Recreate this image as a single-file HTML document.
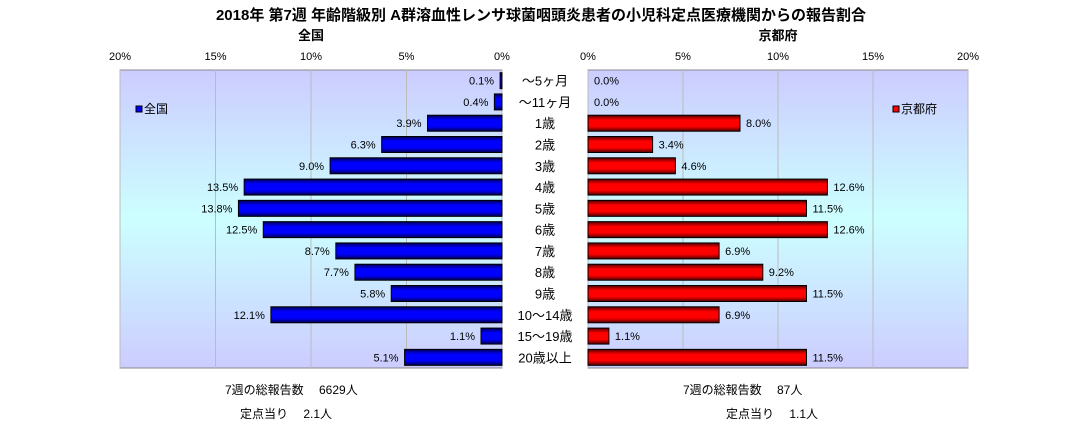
<!DOCTYPE html>
<html><head><meta charset="utf-8"><style>
body{margin:0;background:#fff;font-family:"Liberation Sans","Noto Sans CJK JP",sans-serif;}
svg text{font-family:"Liberation Sans","Noto Sans CJK JP",sans-serif;}
</style></head><body>
<svg id="c" width="1083" height="429" xmlns="http://www.w3.org/2000/svg">
<defs>
<linearGradient id="bg" x1="0" y1="0" x2="0" y2="1">
<stop offset="0" stop-color="#ccccff"/><stop offset="0.5" stop-color="#ccffff"/><stop offset="1" stop-color="#ccccff"/></linearGradient>
<linearGradient id="gb" x1="0" y1="0" x2="0" y2="1">
<stop offset="0" stop-color="#000050"/><stop offset="0.3" stop-color="#0000ff"/><stop offset="0.7" stop-color="#0000ff"/><stop offset="1" stop-color="#000050"/></linearGradient>
<linearGradient id="gr" x1="0" y1="0" x2="0" y2="1">
<stop offset="0" stop-color="#500000"/><stop offset="0.3" stop-color="#ff0000"/><stop offset="0.7" stop-color="#ff0000"/><stop offset="1" stop-color="#500000"/></linearGradient>
</defs>
<text x="541" y="20" text-anchor="middle" font-size="15" font-weight="bold">2018年 第7週 年齢階級別 A群溶血性レンサ球菌咽頭炎患者の小児科定点医療機関からの報告割合</text>
<text x="311" y="40" text-anchor="middle" font-size="13" font-weight="bold">全国</text>
<text x="778" y="40" text-anchor="middle" font-size="13" font-weight="bold">京都府</text>
<rect x="120" y="70" width="382" height="298" fill="url(#bg)" stroke="#888"/>
<rect x="588" y="70" width="380" height="298" fill="url(#bg)" stroke="#888"/>
<g id="g"></g>
<rect x="136" y="106" width="6" height="6" fill="#0000ff" stroke="#000"/>
<text x="144" y="113" font-size="12">全国</text>
<rect x="893" y="106" width="6" height="6" fill="#ff0000" stroke="#000"/>
<text x="901" y="113" font-size="12">京都府</text>
<text x="225" y="394" font-size="12">7週の総報告数　 6629人</text>
<text x="240" y="418" font-size="12">定点当り　 2.1人</text>
<text x="683" y="394" font-size="12">7週の総報告数　 87人</text>
<text x="726" y="418" font-size="12">定点当り　 1.1人</text>
</svg>
<script>
const categories=["～5ヶ月","～11ヶ月","1歳","2歳","3歳","4歳","5歳","6歳","7歳","8歳","9歳","10～14歳","15～19歳","20歳以上"];
const nationalValues=[0.1,0.4,3.9,6.3,9.0,13.5,13.8,12.5,8.7,7.7,5.8,12.1,1.1,5.1];
const kyotoValues=[0.0,0.0,8.0,3.4,4.6,12.6,11.5,12.6,6.9,9.2,11.5,6.9,1.1,11.5];
const tickLabels=["0%","5%","10%","15%","20%"];
const tickValues=[0,5,10,15,20];
const NS="http://www.w3.org/2000/svg",g=document.getElementById('g');
const top0=70,rowH=298/14,barH=16;
const xl=v=>502-v*19.1, xr=v=>588+v*19.0;
const yc=i=>top0+rowH*(i+0.5);
function mk(t,a){const e=document.createElementNS(NS,t);for(const k in a)e.setAttribute(k,a[k]);g.appendChild(e);return e;}
tickValues.forEach((v,i)=>{
 let l=mk('line',{x1:xl(v),x2:xl(v),y1:70,y2:368,stroke:'#bbb'});
 
 
 let r=mk('line',{x1:xr(v),x2:xr(v),y1:70,y2:368,stroke:'#bbb'});
 
 
 let t=mk('text',{x:xl(v),y:60,'text-anchor':'middle','font-size':11});t.textContent=tickLabels[i];
 
 
 let t2=mk('text',{x:xr(v),y:60,'text-anchor':'middle','font-size':11});t2.textContent=tickLabels[i];
 
 
});
categories.forEach((c,i)=>{
 const y=yc(i);
 let t=mk('text',{x:545,y:y+5,'text-anchor':'middle','font-size':13});t.textContent=c;
 
 
 const n=nationalValues[i];
 if(n>0){let b=mk('rect',{x:xl(n),y:y-barH/2,width:502-xl(n),height:barH,fill:'url(#gb)',stroke:'#000'});
 
 }
 let lt=mk('text',{x:xl(n)-6,y:y+4,'text-anchor':'end','font-size':11});lt.textContent=n.toFixed(1)+'%';
 
 
 const k=kyotoValues[i];
 if(k>0){let b=mk('rect',{x:588,y:y-barH/2,width:xr(k)-588,height:barH,fill:'url(#gr)',stroke:'#000'});
 
 }
 let rt=mk('text',{x:xr(k)+6,y:y+4,'font-size':11});rt.textContent=k.toFixed(1)+'%';
 
 
});
</script>
</body></html>
